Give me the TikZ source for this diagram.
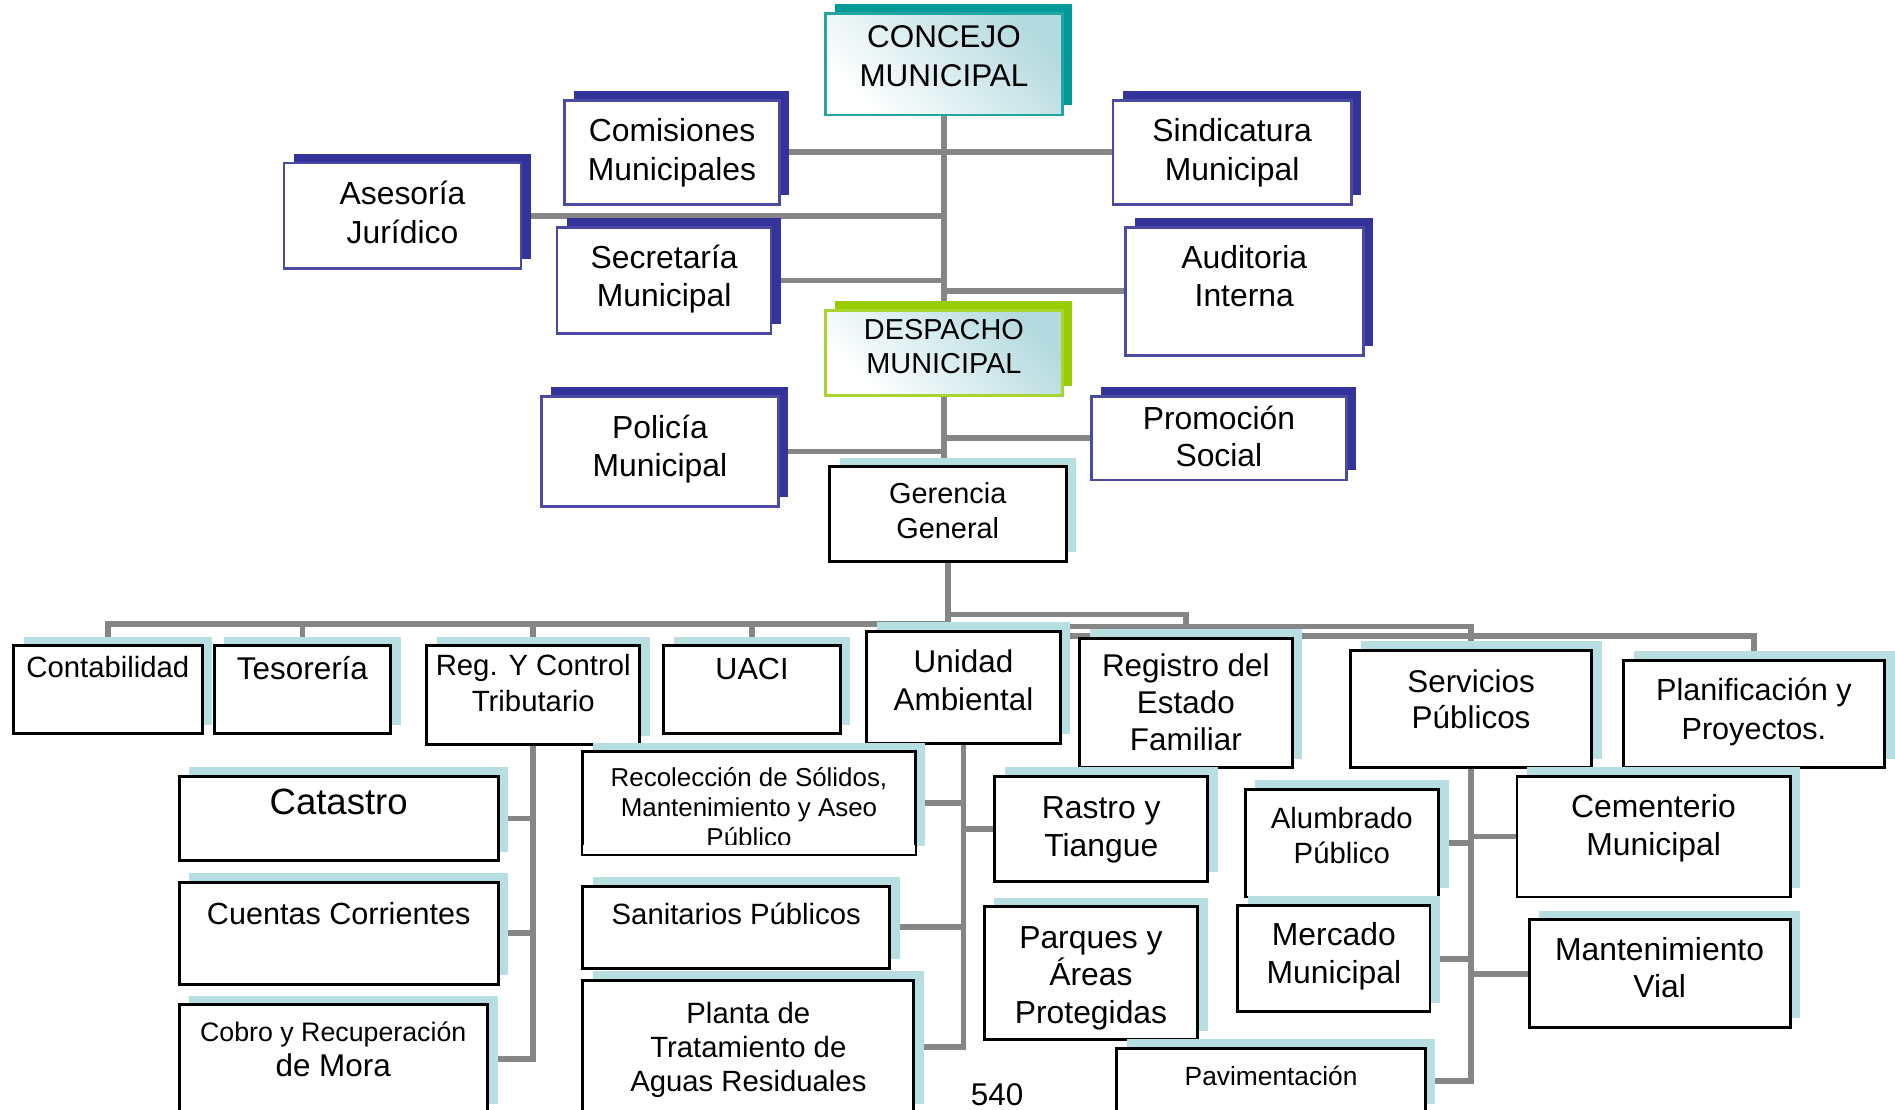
\documentclass[tikz,border=0pt]{standalone}
\usepackage{fontspec}
\setmainfont{Liberation Sans}
\usepackage{tikz}
\usetikzlibrary{shadows,backgrounds}

\definecolor{navy}{HTML}{333399}
\definecolor{navyline}{HTML}{4A4AA6}
\definecolor{paleblue}{HTML}{B7DEE1}
\definecolor{gradblue}{HTML}{B3DADF}
\definecolor{tealshade}{HTML}{009B98}
\definecolor{tealline}{HTML}{22A5A3}
\definecolor{limeshade}{HTML}{99CC00}
\definecolor{limeline}{HTML}{A8D42E}
\definecolor{linegray}{HTML}{868686}

\newlength{\px}
\setlength{\px}{0.1mm}
% box of w x h, first baseline at b from the top
\newcommand{\orgcell}[4]{\parbox[c][#2\px][t]{#1\px}{\lineskiplimit=-20pt\centering\vspace*{\dimexpr#3\px-0.7\baselineskip\relax}\strut#4}}

\begin{document}
\begin{tikzpicture}[x=0.1mm, y=-0.1mm]
			\tikzstyle{headbox} = [line width=0.6pt, inner sep=0pt, anchor=north west, top color=white, bottom color=gradblue, shading angle=135]
			\tikzstyle{staffbox} = [draw=navyline, line width=0.6pt, fill=white, inner sep=0pt, anchor=north west, drop shadow={shadow xshift=0.8mm, shadow yshift=0.8mm, fill=navy, opacity=1}]
			\tikzstyle{unitbox} = [draw=black, line width=0.7pt, fill=white, inner sep=0pt, anchor=north west, drop shadow={shadow xshift=0.85mm, shadow yshift=0.75mm, fill=paleblue, opacity=1}]
			\tikzstyle{link} = [draw=linegray, line width=1.35pt]
			\useasboundingbox (0,0) rectangle (1568,918);
			\begin{scope}
			% council and staff offices
			\path
			node[headbox, draw=tealline, drop shadow={shadow xshift=0.8mm, shadow yshift=0.8mm, fill=tealshade, opacity=1}, font=\fontsize{7.4}{9.1}\selectfont] (concejo) at (682,10) {\orgcell{196}{84}{28.4}{CONCEJO\\MUNICIPAL}}
			node[staffbox, font=\fontsize{7.5}{9.1}\selectfont] (comisiones) at (466,82) {\orgcell{178}{86}{34.4}{Comisiones\\Municipales}}
			node[staffbox, font=\fontsize{7.5}{9.1}\selectfont] (sindicatura) at (920,82) {\orgcell{197}{86}{34.4}{Sindicatura\\Municipal}}
			node[staffbox, font=\fontsize{7.5}{9.1}\selectfont] (asesoria) at (234,134) {\orgcell{196}{87}{34.4}{Asesoría\\Jurídico}}
			node[staffbox, font=\fontsize{7.5}{8.8}\selectfont] (secretaria) at (460,187) {\orgcell{177}{88}{34.4}{Secretaría\\Municipal}}
			node[staffbox, font=\fontsize{7.5}{8.8}\selectfont] (auditoria) at (930,187) {\orgcell{197}{106}{34.4}{Auditoria\\Interna}}
			node[headbox, draw=limeline, drop shadow={shadow xshift=0.8mm, shadow yshift=0.8mm, fill=limeshade, opacity=1}, font=\fontsize{6.8}{8.0}\selectfont] (despacho) at (682,256) {\orgcell{196}{70}{23.6}{DESPACHO\\MUNICIPAL}}
			node[staffbox, font=\fontsize{7.5}{9.1}\selectfont] (policia) at (447,327) {\orgcell{196}{91}{34.4}{Policía\\Municipal}}
			node[staffbox, font=\fontsize{7.5}{8.8}\selectfont] (promocion) at (902,327) {\orgcell{211}{69}{27.4}{Promoción\\Social}}
			node[unitbox, font=\fontsize{6.8}{8.25}\selectfont] (gerencia) at (685,385) {\orgcell{196}{78}{30.6}{Gerencia\\General}}
			;
			% departments
			\path
			node[unitbox, font=\fontsize{6.9}{8.5}\selectfont] (contab) at (10,533) {\orgcell{156}{73}{26.7}{Contabilidad}}
			node[unitbox, font=\fontsize{7.4}{8.5}\selectfont] (teso) at (176,533) {\orgcell{146}{73}{28.4}{Tesorería}}
			node[unitbox, font=\fontsize{6.9}{8.5}\selectfont] (regctrl) at (352,533) {\orgcell{176}{82}{24.7}{Reg. Y Control\\Tributario}}
			node[unitbox, font=\fontsize{7.2}{8.5}\selectfont] (uaci) at (548,533) {\orgcell{146}{73}{28.4}{UACI}}
			node[unitbox, font=\fontsize{7.4}{8.8}\selectfont] (unidad) at (716,521) {\orgcell{160}{93}{34.4}{Unidad\\Ambiental}}
			node[unitbox, font=\fontsize{7.4}{8.7}\selectfont] (registro) at (892,527) {\orgcell{176}{107}{31.4}{Registro del\\Estado\\Familiar}}
			node[unitbox, font=\fontsize{7.4}{8.5}\selectfont] (servicios) at (1116,537) {\orgcell{200}{97}{34.4}{Servicios\\Públicos}}
			node[unitbox, font=\fontsize{7.2}{9.1}\selectfont] (planif) at (1342,545) {\orgcell{216}{89}{33.4}{Planificación y\\Proyectos.}}
			;
			% sections
			\path
			node[unitbox, font=\fontsize{8.6}{9.5}\selectfont] (catastro) at (147,641) {\orgcell{264}{70}{31.9}{Catastro}}
			node[unitbox, font=\fontsize{7.2}{8.8}\selectfont] (cuentas) at (147,729) {\orgcell{264}{84}{34.4}{Cuentas Corrientes}}
			node[unitbox, font=\fontsize{7.4}{8.2}\selectfont] (cobro) at (147,830) {\orgcell{255}{90}{30.9}{{\fontsize{6.3}{8.2}\selectfont Cobro y Recuperación}\\de Mora}}
			node[unitbox, font=\fontsize{6.1}{7.1}\selectfont] (recol) at (481,621) {\orgcell{275}{85}{28.7}{Recolección de Sólidos,\\Mantenimiento y Aseo\\Público}}
			node[unitbox, font=\fontsize{6.9}{8.5}\selectfont] (sanit) at (481,732) {\orgcell{254}{68}{31.7}{Sanitarios Públicos}}
			node[unitbox, font=\fontsize{6.9}{8.0}\selectfont] (planta) at (481,810) {\orgcell{274}{110}{35.7}{Planta de\\Tratamiento de\\Aguas Residuales}}
			node[unitbox, font=\fontsize{7.5}{8.8}\selectfont] (rastro) at (822,641) {\orgcell{176}{87}{35.4}{Rastro y\\Tiangue}}
			node[unitbox, font=\fontsize{7.5}{8.8}\selectfont] (parques) at (813,749) {\orgcell{177}{110}{34.4}{Parques y\\Áreas\\Protegidas}}
			node[unitbox, font=\fontsize{6.9}{8.25}\selectfont] (alumbrado) at (1029,652) {\orgcell{160}{89}{32.6}{Alumbrado\\Público}}
			node[unitbox, font=\fontsize{7.5}{8.8}\selectfont] (mercado) at (1023,748) {\orgcell{159}{88}{33.4}{Mercado\\Municipal}}
			node[unitbox, font=\fontsize{6.2}{8.0}\selectfont] (pavim) at (923,866) {\orgcell{255}{54}{30.9}{Pavimentación}}
			node[unitbox, font=\fontsize{7.5}{8.8}\selectfont] (cementerio) at (1254,641) {\orgcell{226}{100}{34.4}{Cementerio\\Municipal}}
			node[unitbox, font=\fontsize{7.5}{8.8}\selectfont] (mantvial) at (1264,760) {\orgcell{216}{89}{33.4}{Mantenimiento\\Vial}}
			;
			% last line of this box is cut off
			\fill[white] ([shift={(0.5pt,0.5pt)}]recol.south west) rectangle ([shift={(-0.5pt,0.9mm)}]recol.south east);
			\node[font=\fontsize{7.4}{8.8}\selectfont] (pagenum) at (825,906) {540};
			\end{scope}
			\begin{scope}[on background layer]
			\path[link]
			(concejo.south) -- (despacho.north)
			(despacho.south) -- (despacho.south |- gerencia.north)
			(comisiones.east) -- (sindicatura.west)
			(asesoria.east) -- (asesoria.east -| concejo.south)
			(secretaria.east) -- (secretaria.east -| concejo.south)
			(auditoria.west) -- (auditoria.west -| concejo.south)
			(policia.east) -- (policia.east -| concejo.south)
			(promocion.west) -- (promocion.west -| concejo.south)
			(gerencia.south) -- (gerencia.south |- unidad.north)
			(gerencia.south) -- ++(0,51) -| (contab.north)
			(gerencia.south) -- ++(0,51) -| (teso.north)
			(gerencia.south) -- ++(0,51) -| (regctrl.north)
			(gerencia.south) -- ++(0,51) -| (uaci.north)
			(gerencia.south) -- ++(0,43) -| (registro.north)
			(gerencia.south) -- ++(0,53) -| (servicios.north)
			(gerencia.south) -- ++(0,61) -| (planif.north)
			(regctrl.south) |- (catastro.east)
			(regctrl.south) |- (cuentas.east)
			(regctrl.south) |- (cobro.east)
			(unidad.south) |- (recol.east)
			(unidad.south) |- (rastro.west)
			(unidad.south) |- (sanit.east)
			(unidad.south) |- (planta.east)
			(servicios.south) |- (alumbrado.east)
			(servicios.south) |- (cementerio.west)
			(servicios.south) |- (mercado.east)
			(servicios.south) |- (mantvial.west)
			(servicios.south) |- (pavim.east)
			;
			\end{scope}
\end{tikzpicture}
\end{document}
